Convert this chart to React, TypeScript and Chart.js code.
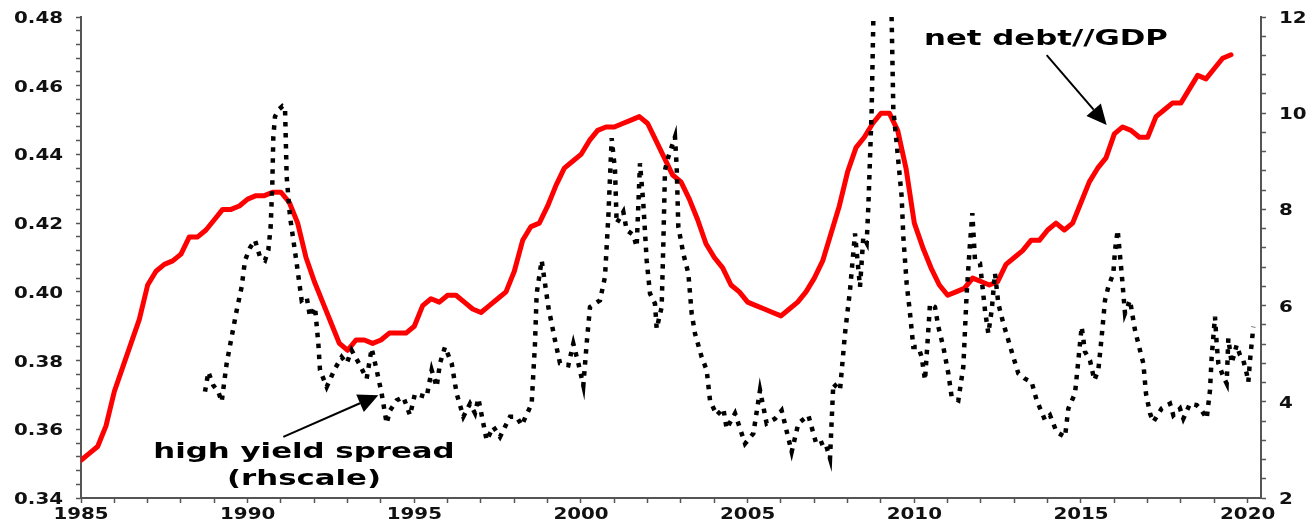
import { useEffect, useRef } from "react";
import { Chart, registerables } from "chart.js";

Chart.register(...registerables);

// ---------- data ----------
// net debt / GDP (left scale), quarterly from 1985 Q1
const debtStartYear = 1985;
const debtValues = [
  0.351, 0.353, 0.355, 0.361, // 1985
  0.371, 0.378, 0.385, 0.392, // 1986
  0.402, 0.406, 0.408, 0.409, // 1987
  0.411, 0.416, 0.416, 0.418, // 1988
  0.421, 0.424, 0.424, 0.425, // 1989
  0.427, 0.428, 0.428, 0.429, // 1990
  0.429, 0.426, 0.42, 0.41, // 1991
  0.403, 0.397, 0.391, 0.385, // 1992
  0.383, 0.386, 0.386, 0.385, // 1993
  0.386, 0.388, 0.388, 0.388, // 1994
  0.39, 0.396, 0.398, 0.397, // 1995
  0.399, 0.399, 0.397, 0.395, // 1996
  0.394, 0.396, 0.398, 0.4, // 1997
  0.406, 0.415, 0.419, 0.42, // 1998
  0.425, 0.431, 0.436, 0.438, // 1999
  0.44, 0.444, 0.447, 0.448, // 2000
  0.448, 0.449, 0.45, 0.451, // 2001
  0.449, 0.444, 0.439, 0.434, // 2002
  0.432, 0.427, 0.421, 0.414, // 2003
  0.41, 0.407, 0.402, 0.4, // 2004
  0.397, 0.396, 0.395, 0.394, // 2005
  0.393, 0.395, 0.397, 0.4, // 2006
  0.404, 0.409, 0.417, 0.425, // 2007
  0.435, 0.442, 0.445, 0.449, // 2008
  0.452, 0.452, 0.447, 0.436, // 2009
  0.42, 0.413, 0.407, 0.402, // 2010
  0.399, 0.4, 0.401, 0.404, // 2011
  0.403, 0.402, 0.403, 0.408, // 2012
  0.41, 0.412, 0.415, 0.415, // 2013
  0.418, 0.42, 0.418, 0.42, // 2014
  0.426, 0.432, 0.436, 0.439, // 2015
  0.446, 0.448, 0.447, 0.445, // 2016
  0.445, 0.451, 0.453, 0.455, // 2017
  0.455, 0.459, 0.463, 0.462, // 2018
  0.465, 0.468, 0.469, // 2019
];

// high yield spread (right scale)
const spreadYears = [
  1988.72, 1988.82, 1988.97, 1989.12, 1989.22, 1989.37, 1989.52, 1989.67, 1989.82, 1989.92,
  1990.07, 1990.22, 1990.37, 1990.52, 1990.62, 1990.69, 1990.74, 1990.77, 1990.82, 1990.94,
  1991.05, 1991.12, 1991.17, 1991.27, 1991.47, 1991.62, 1991.77, 1991.87, 1992.02, 1992.12,
  1992.17, 1992.37, 1992.62, 1992.82, 1992.97, 1993.12, 1993.37, 1993.57, 1993.72, 1993.87,
  1994.02, 1994.17, 1994.27, 1994.47, 1994.67, 1994.87, 1995.02, 1995.37, 1995.52, 1995.67,
  1995.77, 1995.92, 1996.12, 1996.27, 1996.47, 1996.67, 1996.82, 1996.92, 1997.17, 1997.37,
  1997.57, 1997.87, 1998.07, 1998.22, 1998.52, 1998.62, 1998.67, 1998.82, 1998.92, 1999.02,
  1999.22, 1999.37, 1999.62, 1999.77, 1999.92, 2000.07, 2000.17, 2000.27, 2000.57, 2000.72,
  2000.82, 2000.92, 2001.02, 2001.07, 2001.27, 2001.37, 2001.57, 2001.67, 2001.77, 2001.87,
  2001.97, 2002.07, 2002.22, 2002.27, 2002.42, 2002.47, 2002.52, 2002.62, 2002.82, 2002.87,
  2002.92, 2003.07, 2003.22, 2003.32, 2003.42, 2003.62, 2003.77, 2003.87, 2004.07, 2004.27,
  2004.37, 2004.62, 2004.92, 2005.17, 2005.37, 2005.57, 2005.82, 2006.02, 2006.32, 2006.52,
  2006.82, 2007.07, 2007.32, 2007.47, 2007.57, 2007.77, 2007.92, 2008.07, 2008.22, 2008.37,
  2008.47, 2008.57, 2008.62, 2008.72, 2008.77, 2008.85, 2008.95, 2009.05, 2009.15, 2009.25,
  2009.32, 2009.37, 2009.47, 2009.62, 2009.67, 2009.77, 2009.87, 2009.97, 2010.12, 2010.22,
  2010.32, 2010.42, 2010.47, 2010.62, 2010.72, 2010.87, 2011.02, 2011.12, 2011.32, 2011.47,
  2011.57, 2011.67, 2011.74, 2011.82, 2011.97, 2012.12, 2012.22, 2012.32, 2012.42, 2012.52,
  2012.67, 2012.82, 2012.97, 2013.12, 2013.32, 2013.52, 2013.67, 2013.92, 2014.07, 2014.27,
  2014.52, 2014.62, 2014.82, 2014.92, 2015.02, 2015.12, 2015.27, 2015.4, 2015.52, 2015.62,
  2015.72, 2015.82, 2015.97, 2016.02, 2016.1, 2016.22, 2016.32, 2016.47, 2016.62, 2016.77,
  2016.87, 2016.95, 2017.07, 2017.17, 2017.42, 2017.67, 2017.77, 2017.97, 2018.07, 2018.27,
  2018.47, 2018.62, 2018.77, 2018.87, 2018.92, 2019.02, 2019.07, 2019.12, 2019.27, 2019.37,
  2019.42, 2019.52, 2019.67, 2019.77, 2019.87, 2019.97, 2020.02, 2020.07, 2020.17,
];
const spreadValues = [
  4.21, 4.62, 4.34, 4.21, 4.0, 4.8, 5.35, 5.9, 6.39, 6.94,
  7.2, 7.36, 7.01, 6.94, 7.15, 7.64, 8.54, 9.51, 9.93, 10.08,
  10.15, 10.13, 8.68, 7.85, 6.88, 6.11, 6.18, 5.77, 5.97, 5.21,
  4.66, 4.31, 4.69, 4.93, 4.8, 5.07, 4.76, 4.48, 5.11, 4.66,
  4.17, 3.55, 3.82, 4.03, 4.1, 3.72, 4.17, 4.1, 4.66, 4.31,
  4.8, 5.14, 4.8, 4.17, 3.69, 3.96, 3.76, 4.07, 3.2, 3.48,
  3.27, 3.69, 3.69, 3.51, 3.96, 5.21, 6.25, 6.94, 6.46, 5.97,
  5.28, 4.8, 4.76, 5.21, 4.8, 4.34, 5.21, 5.97, 6.11, 6.6,
  7.85, 9.48, 8.82, 7.71, 7.95, 7.57, 7.47, 7.22, 8.96, 8.12,
  6.94, 6.25, 6.04, 5.52, 5.97, 7.29, 8.82, 9.09, 9.51, 8.89,
  7.64, 7.08, 6.67, 5.84, 5.42, 4.93, 4.66, 4.03, 3.72, 3.86,
  3.44, 3.76, 3.13, 3.34, 4.24, 3.55, 3.65, 3.82, 2.96, 3.55,
  3.72, 3.1, 3.17, 2.82, 4.38, 4.24, 5.42, 6.32, 7.5, 6.39,
  7.43, 7.3, 8.05, 10.07, 11.94, 14.5, 17.5, 19.0, 17.0, 14.0,
  11.94, 10.07, 9.37, 8.26, 7.43, 6.46, 5.84, 5.14, 5.14, 4.93,
  4.45, 5.49, 6.04, 5.97, 5.56, 5.14, 4.59, 4.1, 4.03, 4.73,
  6.25, 7.29, 7.92, 6.94, 6.88, 5.9, 5.42, 5.9, 6.67, 6.04,
  5.63, 5.28, 4.93, 4.59, 4.48, 4.41, 4.03, 3.62, 3.72, 3.37,
  3.27, 3.86, 4.17, 4.86, 5.56, 5.04, 4.86, 4.45, 4.66, 5.35,
  6.11, 6.39, 6.67, 7.15, 7.57, 6.67, 5.84, 6.11, 5.49, 5.07,
  4.8, 4.17, 3.76, 3.58, 3.86, 3.96, 3.72, 3.86, 3.65, 3.96,
  3.93, 3.82, 3.65, 4.24, 4.93, 5.77, 5.21, 4.8, 4.52, 4.38,
  5.32, 4.8, 5.18, 4.97, 4.86, 4.59, 4.41, 4.86, 5.56,
];

const xTickLabels = ["1985", "1990", "1995", "2000", "2005", "2010", "2015", "2020"];
const leftTickLabels = ["0.34", "0.36", "0.38", "0.40", "0.42", "0.44", "0.46", "0.48"];
const rightTickLabels = ["2", "4", "6", "8", "10", "12"];

const debtLabel = "net debt//GDP";
const spreadLabel = ["high yield spread", "(rhscale)"];

// ---------- styling / layout ----------
const W = 1309;
const H = 523;
const AXIS_COLOR = "#555555";
const AXIS_FONT = 'bold 16px "DejaVu Sans"';
const AXIS_STRETCH = 1.24;
const ANNO_FONT = 'bold 22px "DejaVu Sans"';
const ANNO_STRETCH = 1.4;

// annotation anchors in data units (year, left-scale value)
const annotations = {
  debtText: { x: 2013.95, y: 0.4718 },
  debtArrow: { from: { x: 2013.97, y: 0.4689 }, to: { x: 2015.77, y: 0.4486 } },
  spreadText1: { x: 1991.69, y: 0.3515 },
  spreadText2: { x: 1991.69, y: 0.3437 },
  spreadArrow: { from: { x: 1991.07, y: 0.3578 }, to: { x: 1993.92, y: 0.3699 } },
};

function stretchedText(
  ctx: CanvasRenderingContext2D,
  text: string,
  x: number,
  y: number,
  align: CanvasTextAlign,
  sx: number
) {
  ctx.save();
  ctx.translate(x, y);
  ctx.scale(sx, 1);
  ctx.textAlign = align;
  ctx.textBaseline = "alphabetic";
  ctx.fillText(text, 0, 0);
  ctx.restore();
}

function arrow(ctx: CanvasRenderingContext2D, x1: number, y1: number, x2: number, y2: number) {
  const headLen = 20;
  const headHalf = 9.5;
  const dx = x2 - x1;
  const dy = y2 - y1;
  const len = Math.hypot(dx, dy);
  const ux = dx / len;
  const uy = dy / len;
  const bx = x2 - ux * headLen;
  const by = y2 - uy * headLen;
  ctx.save();
  ctx.strokeStyle = "#000";
  ctx.fillStyle = "#000";
  ctx.lineWidth = 2;
  ctx.beginPath();
  ctx.moveTo(x1, y1);
  ctx.lineTo(bx, by);
  ctx.stroke();
  ctx.beginPath();
  ctx.moveTo(x2, y2);
  ctx.lineTo(bx - uy * headHalf, by + ux * headHalf);
  ctx.lineTo(bx + uy * headHalf, by - ux * headHalf);
  ctx.closePath();
  ctx.fill();
  ctx.restore();
}

const labelPlugin = {
  id: "labelsAndAnnotations",
  afterDraw(chart: any) {
    const ctx: CanvasRenderingContext2D = chart.ctx;
    const x = chart.scales.x;
    const y = chart.scales.y;
    const y1 = chart.scales.y1;
    const area = chart.chartArea;
    ctx.save();
    ctx.fillStyle = "#111";
    ctx.font = AXIS_FONT;
    xTickLabels.forEach((l) => {
      stretchedText(ctx, l, x.getPixelForValue(Number(l)), area.bottom + 20.5, "center", AXIS_STRETCH);
    });
    leftTickLabels.forEach((l) => {
      stretchedText(ctx, l, area.left - 18, y.getPixelForValue(Number(l)) + 6, "right", AXIS_STRETCH);
    });
    rightTickLabels.forEach((l) => {
      stretchedText(ctx, l, area.right + 18, y1.getPixelForValue(Number(l)) + 6, "left", AXIS_STRETCH);
    });

    ctx.font = ANNO_FONT;
    ctx.fillStyle = "#000";
    const a = annotations;
    stretchedText(ctx, debtLabel, x.getPixelForValue(a.debtText.x), y.getPixelForValue(a.debtText.y), "center", ANNO_STRETCH);
    stretchedText(ctx, spreadLabel[0], x.getPixelForValue(a.spreadText1.x), y.getPixelForValue(a.spreadText1.y), "center", ANNO_STRETCH);
    stretchedText(ctx, spreadLabel[1], x.getPixelForValue(a.spreadText2.x), y.getPixelForValue(a.spreadText2.y), "center", ANNO_STRETCH);
    arrow(
      ctx,
      x.getPixelForValue(a.debtArrow.from.x),
      y.getPixelForValue(a.debtArrow.from.y),
      x.getPixelForValue(a.debtArrow.to.x),
      y.getPixelForValue(a.debtArrow.to.y)
    );
    arrow(
      ctx,
      x.getPixelForValue(a.spreadArrow.from.x),
      y.getPixelForValue(a.spreadArrow.from.y),
      x.getPixelForValue(a.spreadArrow.to.x),
      y.getPixelForValue(a.spreadArrow.to.y)
    );
    ctx.restore();
  },
};

const gridOpts = {
  drawOnChartArea: false,
  drawTicks: true,
  tickLength: 5,
  tickColor: AXIS_COLOR,
  tickWidth: 1.5,
};
const borderOpts = { display: true, color: AXIS_COLOR, width: 2 };

export default function App() {
  const canvasRef = useRef<HTMLCanvasElement | null>(null);

  useEffect(() => {
    const canvas = canvasRef.current;
    if (!canvas) return;
    const debtData = debtValues.map((v, i) => ({ x: debtStartYear + i * 0.25, y: v }));
    const spreadData = spreadYears.map((yr, i) => ({ x: yr, y: spreadValues[i] }));

    const chart = new Chart(canvas, {
      type: "line",
      data: {
        datasets: [
          {
            label: spreadLabel.join(" "),
            data: spreadData,
            yAxisID: "y1",
            borderColor: "#000000",
            borderWidth: 4.5,
            borderDash: [4.5, 6.5],
            borderCapStyle: "butt",
            borderJoinStyle: "miter",
            pointRadius: 0,
            tension: 0,
            fill: false,
          },
          {
            label: debtLabel,
            data: debtData,
            yAxisID: "y",
            borderColor: "#ff0000",
            borderWidth: 5,
            borderJoinStyle: "round",
            borderCapStyle: "round",
            pointRadius: 0,
            tension: 0,
            fill: false,
          },
        ],
      },
      options: {
        animation: false,
        responsive: false,
        devicePixelRatio: 1,
        events: [],
        layout: { padding: { top: 17, left: 0, right: 0, bottom: 0 } },
        plugins: { legend: { display: false }, tooltip: { enabled: false } },
        scales: {
          x: {
            type: "linear",
            min: 1985,
            max: 2020.4,
            afterFit: (s: any) => {
              s.height = 25;
            },
            ticks: { display: false, stepSize: 1, autoSkip: false, includeBounds: false },
            grid: gridOpts,
            border: borderOpts,
          },
          y: {
            type: "linear",
            position: "left",
            min: 0.34,
            max: 0.48,
            afterFit: (s: any) => {
              s.width = 81;
            },
            ticks: { display: false, stepSize: 0.004 },
            grid: gridOpts,
            border: borderOpts,
          },
          y1: {
            type: "linear",
            position: "right",
            min: 2,
            max: 12,
            afterFit: (s: any) => {
              s.width = 48;
            },
            ticks: { display: false, stepSize: 0.4 },
            grid: gridOpts,
            border: borderOpts,
          },
        },
      } as any,
      plugins: [labelPlugin],
    });
    return () => chart.destroy();
  }, []);

  return (
    <div style={{ position: "fixed", left: 0, top: 0, width: W, height: H, background: "#fff" }}>
      <canvas ref={canvasRef} width={W} height={H} style={{ width: W, height: H, display: "block" }} />
    </div>
  );
}
